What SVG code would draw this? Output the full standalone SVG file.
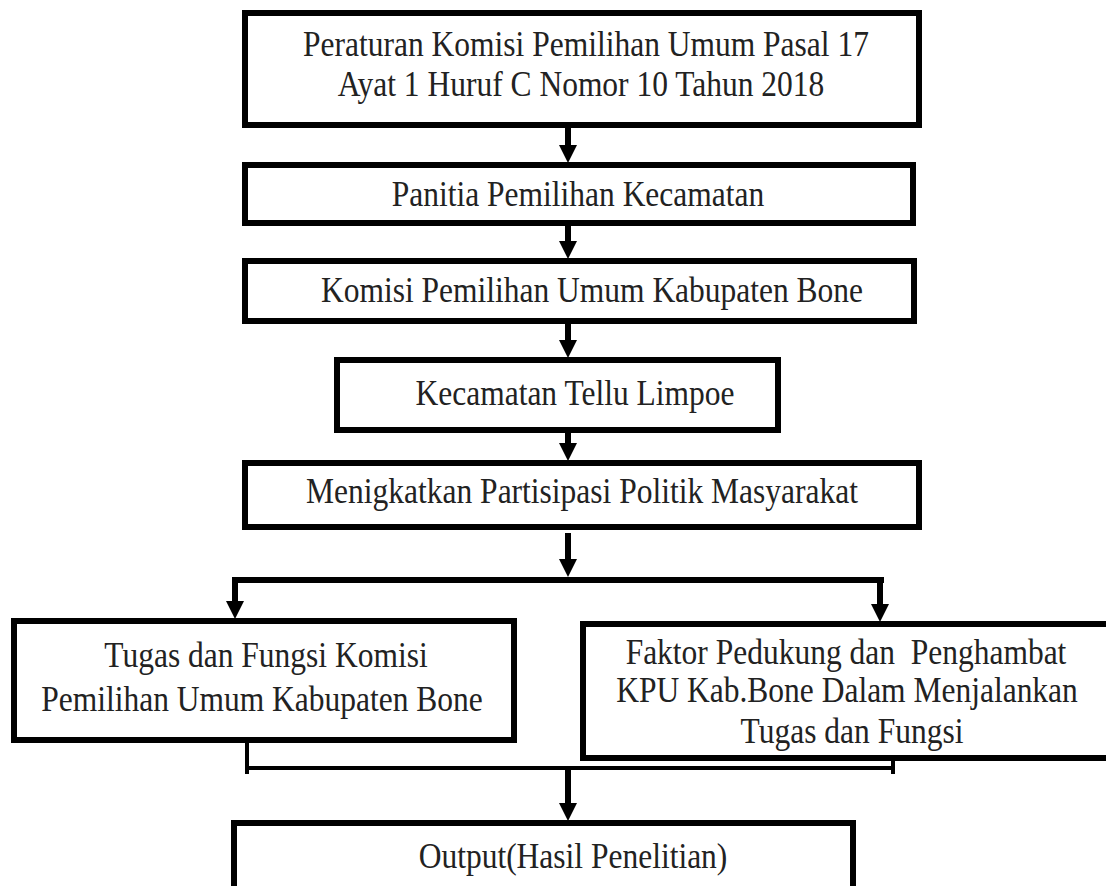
<svg xmlns="http://www.w3.org/2000/svg" width="1106" height="886" viewBox="0 0 1106 886">
<style>
.box{fill:#fff;stroke:#000;stroke-width:6}
.t{font-family:'Liberation Serif','Times New Roman',Times,serif;font-size:31.5px;fill:#222;text-anchor:middle}
.c{stroke:#000;stroke-width:6;fill:none}
.c2{stroke:#000;stroke-width:4;fill:none}
</style>
<defs>
<marker id="ah" markerUnits="userSpaceOnUse" markerWidth="20" markerHeight="20" refX="0" refY="9" orient="auto">
<path d="M0,0 L18,9 L0,18 z" fill="#000"/>
</marker>
</defs>
<rect width="1106" height="886" fill="#fff"/>
<g id="connectors">
<line class="c" x1="568" y1="127" x2="568" y2="145" marker-end="url(#ah)"/>
<line class="c" x1="568" y1="225" x2="568" y2="241" marker-end="url(#ah)"/>
<line class="c" x1="568" y1="323" x2="568" y2="340" marker-end="url(#ah)"/>
<line class="c" x1="568" y1="432" x2="568" y2="443" marker-end="url(#ah)"/>
<line class="c" x1="568" y1="533" x2="568" y2="559" marker-end="url(#ah)"/>
<line class="c" x1="232" y1="580" x2="884" y2="580"/>
<line class="c" x1="235" y1="580" x2="235" y2="601" marker-end="url(#ah)"/>
<line class="c" x1="880" y1="580" x2="880" y2="604" marker-end="url(#ah)"/>
<line class="c2" x1="247" y1="740" x2="247" y2="774"/>
<line class="c2" x1="247" y1="768" x2="895" y2="768"/>
<line class="c2" x1="893" y1="760" x2="893" y2="774"/>
<line class="c" x1="568" y1="766" x2="568" y2="803" marker-end="url(#ah)"/>
</g>
<g id="n1">
<rect class="box" x="245" y="13" width="674" height="112"/>
<text class="t" transform="matrix(1,0,0,1.13,586,56)">Peraturan Komisi Pemilihan Umum Pasal 17</text>
<text class="t" transform="matrix(1,0,0,1.13,581,96)">Ayat 1 Huruf C Nomor 10 Tahun 2018</text>
</g>
<g id="n2">
<rect class="box" x="245" y="165" width="668" height="58"/>
<text class="t" transform="matrix(1,0,0,1.13,578,206)">Panitia Pemilihan Kecamatan</text>
</g>
<g id="n3">
<rect class="box" x="245" y="261" width="669" height="60"/>
<text class="t" transform="matrix(1,0,0,1.13,592,302)">Komisi Pemilihan Umum Kabupaten Bone</text>
</g>
<g id="n4">
<rect class="box" x="337" y="360" width="441" height="70"/>
<text class="t" transform="matrix(1,0,0,1.13,575,405)">Kecamatan Tellu Limpoe</text>
</g>
<g id="n5">
<rect class="box" x="245" y="463" width="674" height="64"/>
<text class="t" transform="matrix(1,0,0,1.13,582,503)">Menigkatkan Partisipasi Politik Masyarakat</text>
</g>
<g id="n6">
<rect class="box" x="14" y="621" width="500" height="119"/>
<text class="t" transform="matrix(1,0,0,1.13,266,667)">Tugas dan Fungsi Komisi</text>
<text class="t" transform="matrix(1,0,0,1.13,262,711)">Pemilihan Umum Kabupaten Bone</text>
</g>
<g id="n7">
<rect class="box" x="583" y="624" width="540" height="134"/>
<text class="t" transform="matrix(1,0,0,1.13,846,664)" style="white-space:pre">Faktor Pedukung dan  Penghambat</text>
<text class="t" transform="matrix(1,0,0,1.13,847,702)">KPU Kab.Bone Dalam Menjalankan</text>
<text class="t" transform="matrix(1,0,0,1.13,852,743)">Tugas dan Fungsi</text>
</g>
<g id="n8">
<rect class="box" x="234" y="823" width="619" height="100"/>
<text class="t" transform="matrix(1,0,0,1.13,573,868)">Output(Hasil Penelitian)</text>
</g>
</svg>
